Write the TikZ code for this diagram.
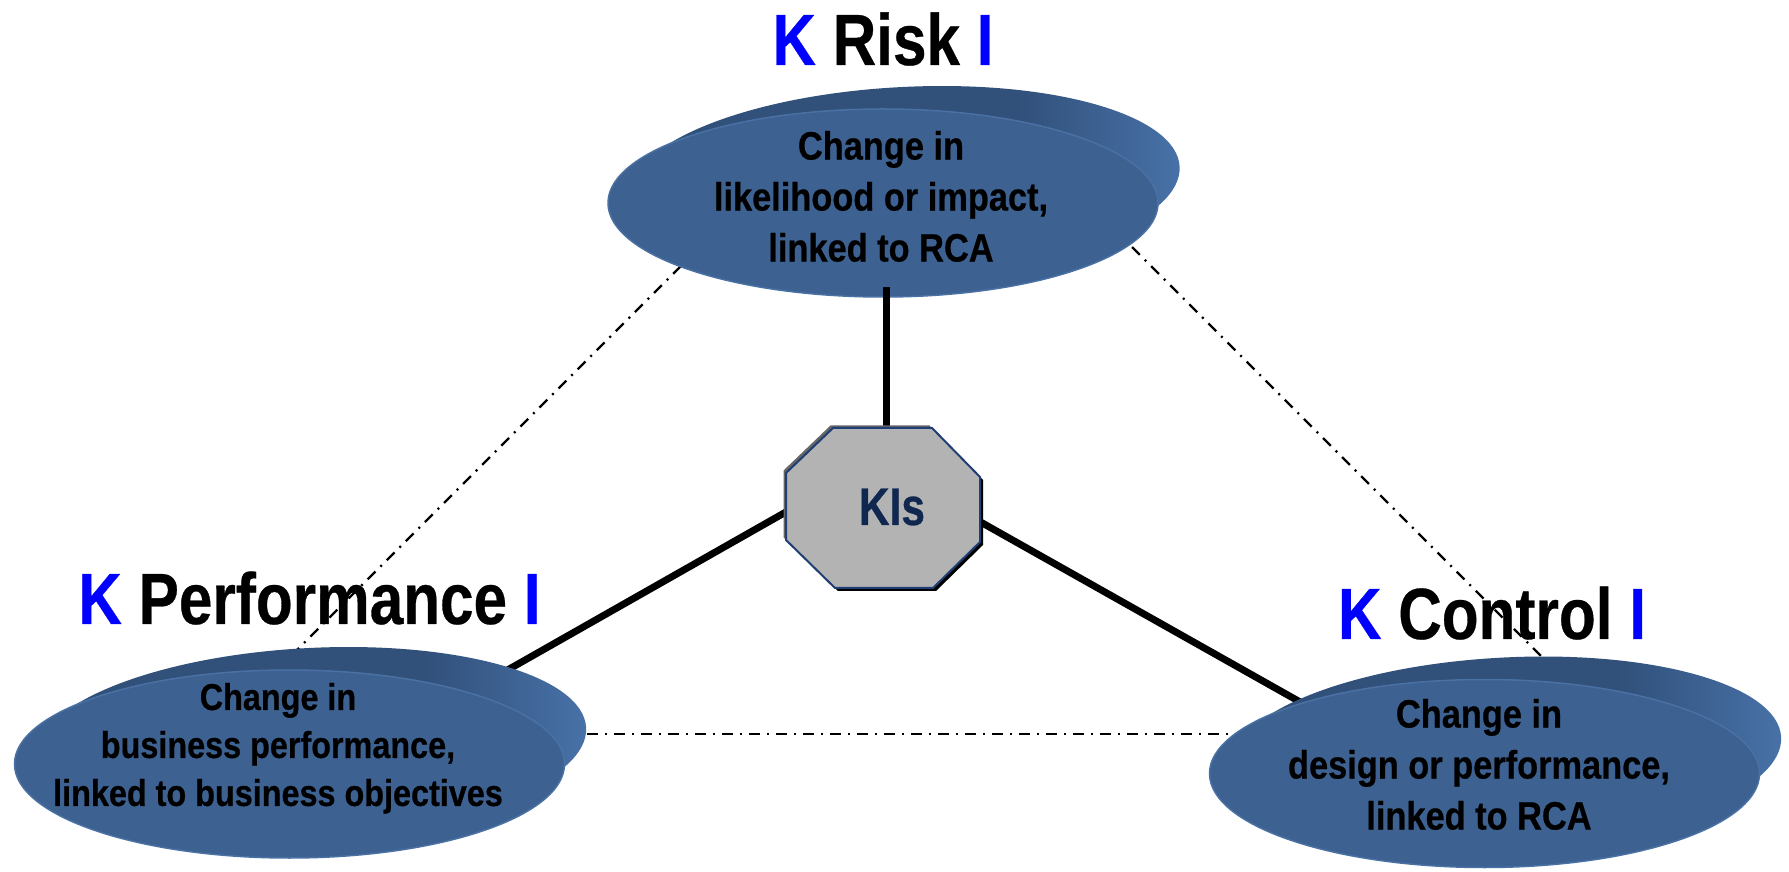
\documentclass[tikz,border=0pt]{standalone}
\usepackage{fontspec}
\setmainfont{Liberation Sans}
\newfontfamily\titlef[FakeStretch=0.83, FakeBold=0.4]{Liberation Sans}
\newfontfamily\bodyf[FakeStretch=0.87, FakeBold=0.6]{Liberation Sans}
\newfontfamily\kisf[FakeStretch=0.80, FakeBold=0.5]{Liberation Sans}
\usetikzlibrary{shapes.geometric}
\definecolor{facecol}{HTML}{3D6190}
\definecolor{rimcol}{HTML}{4A71A3}
\definecolor{lipdark}{HTML}{31507A}
\definecolor{liplight}{HTML}{4872A8}
\definecolor{kblue}{HTML}{0000FF}
\definecolor{kisblue}{HTML}{10274F}
\definecolor{octfill}{HTML}{B3B3B3}
\definecolor{octline}{HTML}{1F3E73}
\pgfdeclarehorizontalshading{lipshade}{100bp}{color(0bp)=(lipdark); color(25bp)=(lipdark); color(60bp)=(lipdark); color(75bp)=(liplight); color(100bp)=(liplight)}
\begin{document}
\begin{tikzpicture}[x=1pt,y=1pt,
  lipshape/.style={ellipse, minimum width=550pt, minimum height=188pt, inner sep=0pt,
    shading=lipshade, rotate=3},
  faceshape/.style={ellipse, minimum width=550pt, minimum height=188pt, inner sep=0pt,
    fill=facecol, draw=rimcol, line width=1.5pt},
  bodytext/.style={align=center, inner sep=0pt, text=black,
    font=\bodyf\bfseries\fontsize{39.5}{51}\selectfont},
  titletext/.style={anchor=base, inner sep=0pt, text=black,
    font=\titlef\bfseries\fontsize{72.6}{80}\selectfont},
  thickline/.style={line width=7pt, black},
  dashline/.style={line width=2.3pt, black, dash pattern=on 11pt off 7pt on 2pt off 7pt},
  octa/.pic={\path[pic actions] (833,443) -- (932,443) -- (980,394) -- (980,329) -- (933,283) -- (835,283) -- (786,331) -- (786,398) -- cycle;}
]
\useasboundingbox (0,0) rectangle (1789,871);
\fill[white] (0,0) rectangle (1789,871);

% connector end points
\coordinate (hub) at (874,409);
\coordinate (pl) at (430,157);
\coordinate (pr) at (1380,124);
\coordinate (vt) at (886,584);
\coordinate (vb) at (886,400);
\coordinate (d1a) at (700,624);
\coordinate (d1b) at (290,214);
\coordinate (d2a) at (1113,643);
\coordinate (d2b) at (1552,204);
\coordinate (d3a) at (560,137);
\coordinate (d3b) at (1250,137);

% dash-dot connectors
\draw[dashline] (d1a) -- (d1b);
\draw[dashline] (d2a) -- (d2b);
\draw[dashline] (d3a) -- (d3b);

% thick connectors
\draw[thickline] (hub) -- (pl);
\draw[thickline] (hub) -- (pr);

% disks
\node[lipshape] (risklip) at (905,690) {};
\node[faceshape] (risk) at (883,668) {};
\node[lipshape] (perflip) at (311.5,129) {};
\node[faceshape] (perf) at (289.5,107) {};
\node[lipshape] (ctrllip) at (1506.5,119.5) {};
\node[faceshape] (ctrl) at (1484.5,97.5) {};

\draw[thickline] (vt) -- (vb);

% octagon
\pic[fill=black] at (3,-3) {octa};
\pic[fill=black!60] at (-2.5,2.5) {octa};
\pic[fill=octfill, draw=octline, line width=2pt] at (0,0) {octa};
\node[anchor=base, inner sep=0pt, text=kisblue, font=\kisf\bfseries\fontsize{53}{60}\selectfont] (kis) at (892,346) {KIs};

% disk texts
\node[bodytext] (risktext) at (881,674.6) {Change in\\likelihood or impact,\\linked to RCA};
\node[bodytext, font=\bodyf\bfseries\fontsize{37.2}{48}\selectfont] (perftext) at (278,122.7) {Change in\\business performance,\\linked to business objectives};
\node[bodytext] (ctrltext) at (1479,106.6) {Change in\\design or performance,\\linked to RCA};

% titles
\node[titletext] (risktitle) at (883,806) {\textcolor{kblue}{K} Risk \textcolor{kblue}{I}};
\node[titletext] (perftitle) at (309.5,247) {\textcolor{kblue}{K} Performance \textcolor{kblue}{I}};
\node[titletext] (ctrltitle) at (1492,232) {\textcolor{kblue}{K} Control \textcolor{kblue}{I}};
\end{tikzpicture}
\end{document}
